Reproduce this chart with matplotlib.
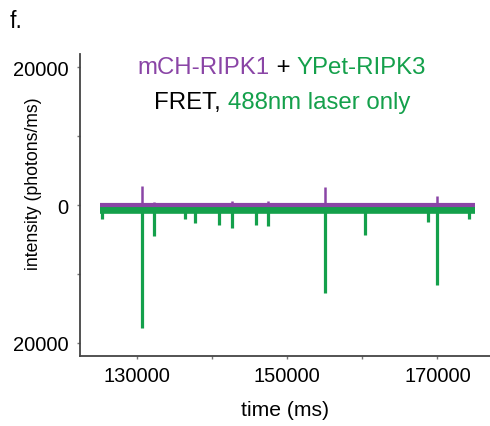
import matplotlib
matplotlib.use("Agg")
import matplotlib.pyplot as plt

plt.rcParams["font.family"] = ["Liberation Sans", "DejaVu Sans"]

PURPLE = "#8a45a6"
GREEN = "#14a04b"
SPINE = "#444444"

# trace extent (ms) and baseline levels (photons/ms)
t_range = [125000, 175000]
purple_base = 0
green_base = -750

# purple (mCH-RIPK1) upward spikes
purple_t = [130600, 132300, 137700, 140900, 142700, 145900, 147500, 154970, 160400, 168700, 169880]
purple_v = [2700, 400, 350, 300, 550, 250, 600, 2550, 350, 200, 1300]

# green (YPet-RIPK3, FRET) downward spikes
green_t = [125300, 130600, 132300, 136400, 137700, 140900, 142700, 145900, 147500,
           154970, 160400, 168780, 169880, 174220]
green_v = [-2000, -17800, -4500, -2000, -2550, -2950, -3300, -2950, -3100,
           -12800, -4350, -2400, -11600, -2000]

yticks = [-20000, -10000, 0, 10000, 20000]
ytick_labels = ["20000", "", "0", "", "20000"]
xticks = [130000, 140000, 150000, 160000, 170000]
xtick_labels = ["130000", "", "150000", "", "170000"]

fig = plt.figure(figsize=(4.9, 4.27), dpi=100)
ax = fig.add_axes([80 / 490, 70 / 427, 410 / 490, 302 / 427])

# green trace: thick noisy baseline band plus spikes
ax.plot(t_range, [green_base, green_base], color=GREEN, lw=5.5, solid_capstyle="butt", zorder=2)
ax.vlines(green_t, green_base, green_v, color=GREEN, lw=2.3, zorder=2)

# purple trace on top
ax.plot(t_range, [purple_base, purple_base], color=PURPLE, lw=3.0, solid_capstyle="butt", zorder=3)
ax.vlines(purple_t, purple_base, purple_v, color=PURPLE, lw=1.8, zorder=3)

ax.set_xlim(122400, 177000)
ax.set_ylim(-21900, 21900)

ax.set_yticks(yticks)
ax.set_yticklabels(ytick_labels)
ax.set_xticks(xticks)
ax.set_xticklabels(xtick_labels)
ax.tick_params(axis="both", length=2, width=1, color="#777777", labelsize=14.5)
ax.tick_params(axis="y", pad=6.5)
ax.tick_params(axis="x", pad=5)

for side in ["top", "right"]:
    ax.spines[side].set_visible(False)
for side in ["left", "bottom"]:
    ax.spines[side].set_color(SPINE)
    ax.spines[side].set_linewidth(1.3)

ax.set_xlabel("time (ms)", fontsize=15.2, labelpad=11)
fig.text(34 / 490, 1 - 184 / 427, "intensity (photons/ms)", fontsize=12.7,
         rotation=90, ha="center", va="center")

# two-colour title lines
cx = 282 / 490
line1 = [("mCH-RIPK1", PURPLE), (" + ", "black"), ("YPet-RIPK3", GREEN)]
line2 = [("FRET, ", "black"), ("488nm laser only", GREEN)]

renderer = fig.canvas.get_renderer()


def colored_line(parts, y):
    texts = []
    for s, c in parts:
        texts.append(fig.text(0, y, s, color=c, fontsize=17.3, va="baseline", ha="left"))
    widths = [t.get_window_extent(renderer).width for t in texts]
    x = cx * fig.bbox.width - sum(widths) / 2
    for t, w in zip(texts, widths):
        t.set_x(x / fig.bbox.width)
        x += w


colored_line(line1, 1 - 74 / 427)
colored_line(line2, 1 - 109 / 427)

fig.text(10 / 490, 1 - 28 / 427, "f.", fontsize=16.5, va="baseline", ha="left")

fig.savefig("out.png", dpi=100, facecolor="white")
